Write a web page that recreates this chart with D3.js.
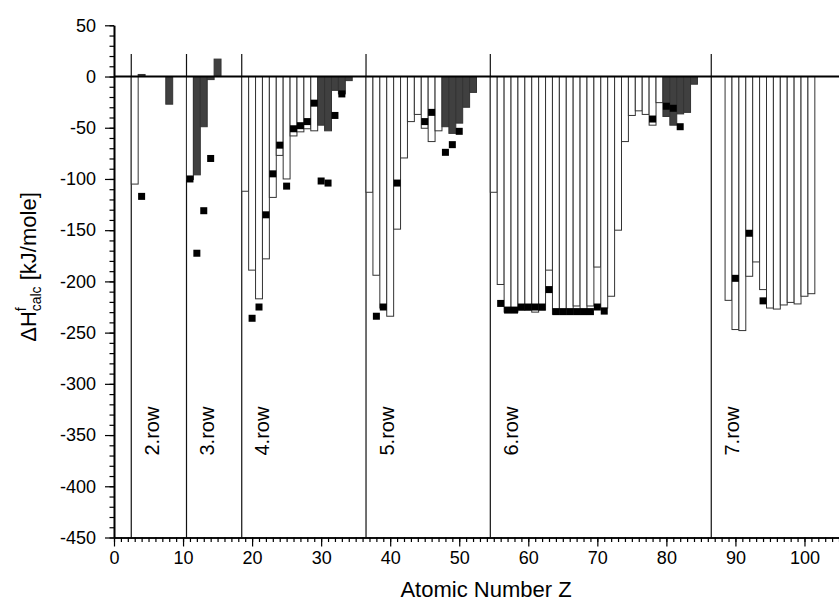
<!DOCTYPE html>
<meta charset="utf-8">
<script src="https://cdn.jsdelivr.net/npm/d3@7/dist/d3.min.js"></script>
<style>
    body { margin: 0; background: #fff; }
    text { font-family: "Liberation Sans", Arial, sans-serif; fill: #000; }
</style>
<svg width="839" height="610"></svg>
<script>

// calculated heats of formation, open bars
var openZ = [3, 11,
    19, 20, 21, 22, 23, 24, 25, 26, 27, 28, 29,
    37, 38, 39, 40, 41, 42, 43, 44, 45, 46, 47,
    55, 56, 57, 58, 59, 60, 61, 62, 63, 64, 65, 66, 67, 68, 69, 70, 71, 72, 73, 74, 75, 76, 77, 78, 79,
    89, 90, 91, 92, 93, 94, 95, 96, 97, 98, 99, 100, 101];
var openH = [-105, -100.5,
    -112, -189, -217, -178, -118, -77, -100, -58, -54, -51, -53,
    -113, -194, -226, -234, -149, -79.5, -44, -37, -50.5, -63.5, -53,
    -113, -203, -230, -230, -228, -228, -230, -228, -189, -232, -232, -232, -224, -232, -224, -186, -226, -214.5, -150, -63.5, -38, -33.5, -37, -47.5, -25.5,
    -218.5, -247, -248, -195, -181, -208, -226, -227, -223, -220.5, -222, -214.5, -212];

// calculated heats of formation, filled bars
var fillZ = [4, 8, 12, 13, 14, 15, 30, 31, 32, 33, 34, 48, 49, 50, 51, 52, 80, 81, 82, 83, 84];
var fillH = [2, -27, -96, -49, -3, 17, -47.5, -53, -13.5, -17, -4, -49, -55.5, -45.5, -30, -15.5, -39, -47.5, -36.5, -35, -7.5];

// experimental values (squares)
var expZ = [4, 11, 12, 13, 14,
    20, 21, 22, 23, 24, 25, 26, 27, 28, 29, 30, 31, 32, 33,
    38, 39, 41, 45, 46, 48, 49, 50,
    56, 57, 58, 59, 60, 61, 62, 63, 64, 65, 66, 67, 68, 69, 70, 71, 78, 80, 81, 82,
    90, 92, 94];
var expH = [-117, -100, -172.5, -131, -80,
    -236, -225, -135, -95, -67, -107, -51, -48, -44, -26, -102, -104, -38, -17,
    -234, -225, -104, -44, -35, -74, -66.5, -53.5,
    -221.5, -228, -228, -225, -225, -225, -225, -208, -229.5, -229.5, -229.5, -229.5, -229.5, -229.5, -225, -229, -41.5, -29, -31, -49,
    -197, -153, -219];

var rowLines = [2.5, 10.5, 18.5, 36.5, 54.5, 86.5];
var rowNames = ["2.row", "3.row", "4.row", "5.row", "6.row", "7.row"];

var yTicks = d3.range(-450, 51, 50);
var yMinor = d3.range(-450, 51, 10);
var xTicks = d3.range(0, 101, 10);
var xMinor = d3.range(0, 106, 1);

var svg = d3.select("svg");

var x = d3.scaleLinear().domain([0, 105]).range([114, 839]);
var y = d3.scaleLinear().domain([-450, 50]).range([537.5, 25.3]);

// plain hyphen for negatives, like the original plot
var fmt = function(d){ return String(d) };

// row separators
svg.append("g").selectAll("line")
    .data(rowLines)
    .enter().append("line")
    .attr("x1", function(d){ return x(d) })
    .attr("x2", function(d){ return x(d) })
    .attr("y1", y(22))
    .attr("y2", y(-450))
    .attr("stroke", "#111")
    .attr("stroke-width", 1.2);

svg.append("g").selectAll("text")
    .data(rowLines)
    .enter().append("text")
    .attr("transform", function(d){ return "translate(" + (x(d + 3) + 7) + "," + y(-370) + ") rotate(-90)" })
    .attr("font-size", 20)
    .text(function(d, i){ return rowNames[i] });

function drawBars(zs, hs, fill) {
    svg.append("g").selectAll("rect")
        .data(zs)
        .enter().append("rect")
        .attr("x", function(d){ return x(d - 0.5) })
        .attr("width", function(d){ return x(d + 0.5) - x(d - 0.5) })
        .attr("y", function(d, i){ return y(Math.max(0, hs[i])) })
        .attr("height", function(d, i){ return Math.abs(y(hs[i]) - y(0)) })
        .attr("fill", fill)
        .attr("stroke", "#333")
        .attr("stroke-width", 1);
}

drawBars(openZ, openH, "#fff");
drawBars(fillZ, fillH, "#404040");

// zero line
svg.append("line")
    .attr("x1", x(0)).attr("x2", x(105))
    .attr("y1", y(0)).attr("y2", y(0))
    .attr("stroke", "#000")
    .attr("stroke-width", 2);

// experimental points
svg.append("g").selectAll("rect")
    .data(expZ)
    .enter().append("rect")
    .attr("x", function(d){ return x(d) - 3.5 })
    .attr("y", function(d, i){ return y(expH[i]) - 3.5 })
    .attr("width", 7)
    .attr("height", 7)
    .attr("fill", "#000");

// axes
svg.append("g")
    .attr("transform", "translate(" + x(0) + ",0)")
    .call(d3.axisLeft(y).tickValues(yTicks).tickSize(9).tickSizeOuter(0).tickPadding(9).tickFormat(fmt));
svg.append("g")
    .attr("transform", "translate(" + x(0) + ",0)")
    .call(d3.axisLeft(y).tickValues(yMinor).tickSize(4.5).tickSizeOuter(0).tickFormat(""));

svg.append("g")
    .attr("transform", "translate(0," + y(-450) + ")")
    .call(d3.axisBottom(x).tickValues(xTicks).tickSize(9).tickSizeOuter(0).tickPadding(5).tickFormat(fmt));
svg.append("g")
    .attr("transform", "translate(0," + y(-450) + ")")
    .call(d3.axisBottom(x).tickValues(xMinor).tickSize(4.5).tickSizeOuter(0).tickFormat(""));

svg.selectAll(".domain").attr("stroke-width", 1.6);
svg.selectAll(".tick line").attr("stroke-width", 1.2);
svg.selectAll(".tick text").attr("font-size", 18).attr("font-family", "Liberation Sans, Arial, sans-serif");

// axis titles
svg.append("text")
    .attr("x", 486)
    .attr("y", 597)
    .attr("text-anchor", "middle")
    .attr("font-size", 22)
    .text("Atomic Number Z");

var yt = svg.append("text")
    .attr("transform", "translate(36,267) rotate(-90)")
    .attr("text-anchor", "middle")
    .attr("font-size", 22);
yt.append("tspan").text("\u0394H");
yt.append("tspan").attr("font-size", 14).attr("dy", -10).text("f");
yt.append("tspan").attr("font-size", 14).attr("dx", -4).attr("dy", 15).text("calc");
yt.append("tspan").attr("dy", -5).text(" [kJ/mole]");

</script>
